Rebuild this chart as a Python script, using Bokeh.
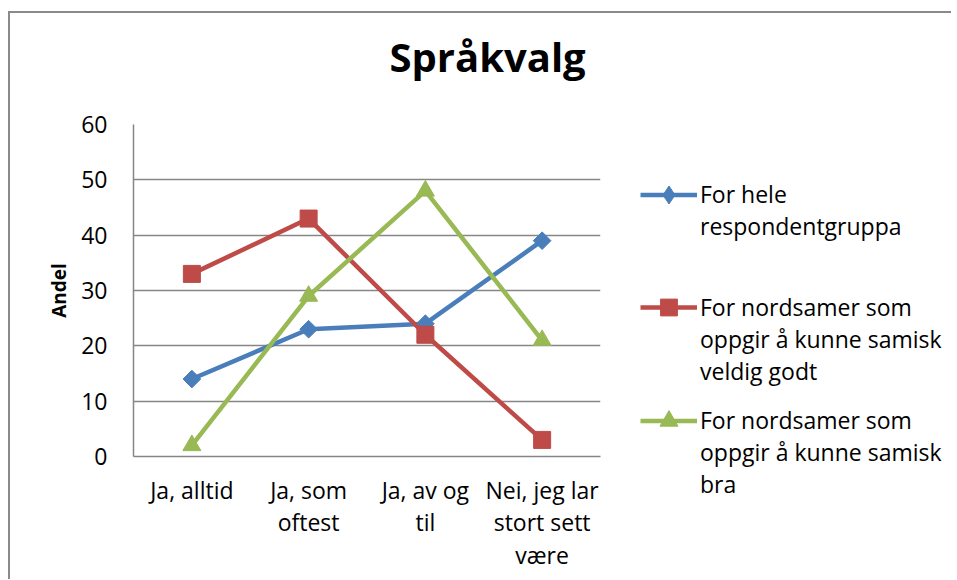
from bokeh.plotting import figure
from bokeh.models import (FactorRange, Range1d, SingleIntervalTicker, Legend, LegendItem)
from bokeh.layouts import row
from bokeh.embed import file_html
from bokeh.resources import INLINE
import math

# ---- data ----
categories = ["Ja, alltid", "Ja, som\noftest", "Ja, av og\ntil", "Nei, jeg lar\nstort sett\nvære"]
series_names = ["For hele\nrespondentgruppa",
                "For nordsamer som\noppgir å kunne samisk\nveldig godt",
                "For nordsamer som\noppgir å kunne samisk\nbra"]
hele = [14, 23, 24, 39]
veldig_godt = [33, 43, 22, 3]
bra = [2, 29, 48, 21]
title_text = "Språkvalg"
y_label = "Andel"

FONT = "Open Sans"
GRID = "#868686"
H = 566

p = figure(width=610, height=H, output_backend="svg", toolbar_location=None,
           x_range=FactorRange(*categories, range_padding=0),
           y_range=Range1d(0, 60),
           min_border_left=123, min_border_right=20, min_border_top=111, min_border_bottom=123)
p.outline_line_color = None
p.xgrid.grid_line_color = None
p.ygrid.grid_line_color = GRID
p.ygrid.grid_line_width = 1.5
p.yaxis.ticker = SingleIntervalTicker(interval=10)

for ax in (p.xaxis, p.yaxis):
    ax.axis_line_color = GRID
    ax.axis_line_width = 1.5
    ax.major_tick_line_color = None
    ax.minor_tick_line_color = None
    ax.major_tick_out = 0
    ax.major_tick_in = 0
    ax.major_label_text_font = FONT
    ax.major_label_text_font_size = "23px"
    ax.major_label_text_color = "black"
    ax.major_label_text_line_height = 1.02

p.yaxis.major_label_standoff = 22
p.xaxis.major_label_standoff = 17
p.xaxis.major_label_orientation = "horizontal"
p.yaxis.axis_label = y_label
p.yaxis.axis_label_text_font = FONT
p.yaxis.axis_label_text_font_style = "bold"
p.yaxis.axis_label_text_font_size = "19px"
p.yaxis.axis_label_text_color = "black"
p.yaxis.axis_label_standoff = 6

p.title.text = title_text
p.title.align = "left"
p.title.offset = 256
p.title.standoff = 0
p.title.vertical_align = "top"
p.title.text_font = FONT
p.title.text_font_style = "bold"
p.title.text_font_size = "40px"
p.title.text_color = "black"
try:
    p.title.padding = dict(top=0, right=0, bottom=39, left=0)
except Exception:
    p.title.padding = (0, 0, 39, 0)

colors = ["#4A7EBB", "#BE4B48", "#98B954"]
values = [hele, veldig_godt, bra]


def add_series(fig, i, vals, col, visible=True, legend_only=False):
    lr = fig.line(categories, vals, line_color=col, line_width=4.5, visible=visible)
    if i == 0:
        if legend_only:
            sr = fig.scatter(categories, vals, marker="diamond", fill_color=col,
                             line_color=col, visible=visible)
        else:
            sr = fig.scatter(categories, vals, marker="square", angle=math.pi / 4, size=12.5,
                             fill_color=col, line_color=col, visible=visible)
    elif i == 1:
        sr = fig.scatter(categories, vals, marker="square", size=17,
                         fill_color=col, line_color=col, visible=visible)
    else:
        sr = fig.scatter(categories, vals, marker="triangle", size=18,
                         fill_color=col, line_color=col, visible=visible)
    return lr, sr


for i, (vals, col) in enumerate(zip(values, colors)):
    add_series(p, i, vals, col)

# legend panel: its own canvas (frame = whole canvas) so the legend is not clipped
lg = figure(frame_width=331, frame_height=H, output_backend="svg", toolbar_location=None,
            x_range=FactorRange(*categories, range_padding=0), y_range=Range1d(0, 60),
            min_border=0, min_border_left=0, min_border_right=0,
            min_border_top=0, min_border_bottom=0)
try:
    lg.frame_align = False
    p.frame_align = False
except Exception:
    pass
lg.axis.visible = False
lg.grid.visible = False
lg.outline_line_color = None

LH = 31.33          # rendered line height of the legend labels
STEP = 113          # distance between legend entries
FIRST = 196 - 13    # centre of first legend line, in canvas px from top
GLYPH_H = [45, 42, 45]
for i, (vals, col, name) in enumerate(zip(values, colors, series_names)):
    lr, sr = add_series(lg, i, vals, col, visible=False, legend_only=True)
    # two leading empty lines so the symbol sits level with the first text line
    label = "\n\n" + name + ("\n " if name.count("\n") == 1 else "")
    bottom = FIRST + STEP * i + 2.5 * LH
    leg = Legend(items=[LegendItem(label=label, renderers=[lr, sr])],
                 location=(20, round(H - bottom)), orientation="vertical",
                 glyph_width=57, glyph_height=GLYPH_H[i], label_standoff=3,
                 padding=0, margin=0, border_line_color=None, background_fill_alpha=0,
                 label_text_font=FONT, label_text_font_size="23px",
                 label_text_color="black")
    lg.add_layout(leg, "center")

layout = row(p, lg, spacing=0)
layout.styles = {"border-left": "2px solid #8a8a8a", "border-top": "2px solid #8a8a8a",
                 "margin-left": "8px", "margin-top": "11px"}

open("out.html", "w").write(file_html(layout, INLINE))
